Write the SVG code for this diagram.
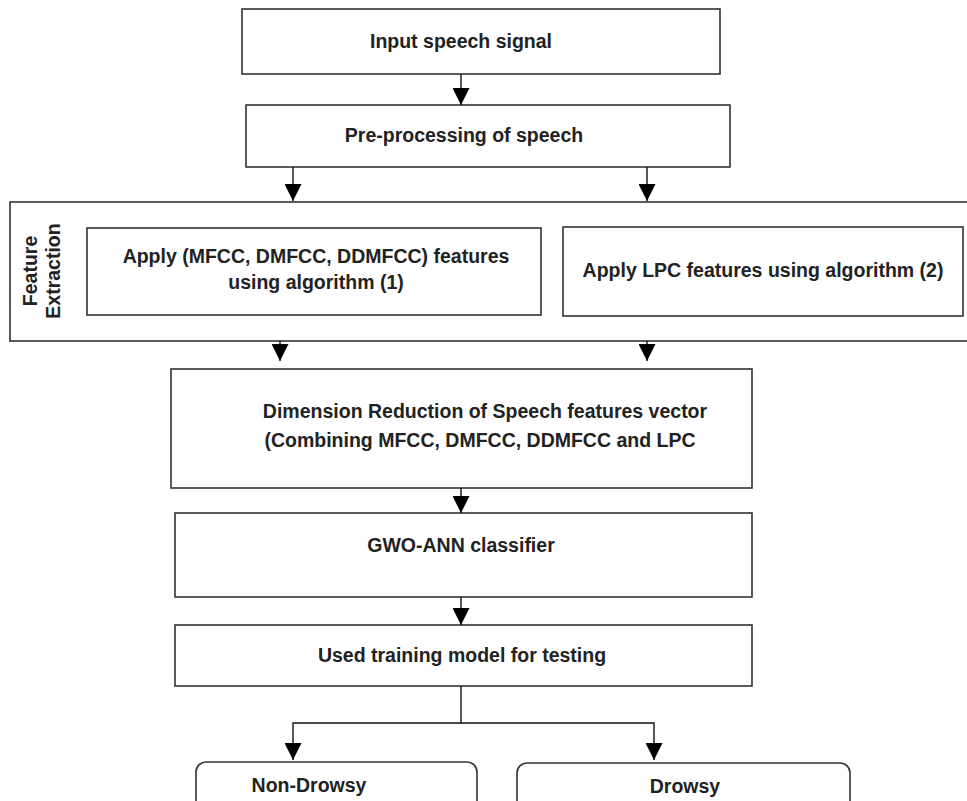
<svg xmlns="http://www.w3.org/2000/svg" width="967" height="801" viewBox="0 0 967 801">
<style>
.box{fill:#fff;stroke:#333;stroke-width:1.6}
.t{font-family:"Liberation Sans",Arial,sans-serif;font-weight:bold;font-size:19.5px;fill:#222;text-anchor:middle}
.c{stroke:#111;stroke-width:1.4;fill:none}
</style>
<defs>
<marker id="ah2" viewBox="0 0 10 10" refX="10" refY="5" markerWidth="17" markerHeight="17" markerUnits="userSpaceOnUse" orient="auto">
<path d="M0,0 L10,5 L0,10 Z" fill="#000"/>
</marker>
</defs>
<rect width="967" height="801" fill="#fff"/>
<g id="feature-extraction">
<rect class="box" x="10" y="202" width="962" height="139"/>
<text class="t" transform="translate(37,271) rotate(-90)">Feature</text>
<text class="t" transform="translate(60,271) rotate(-90)">Extraction</text>
</g>
<g id="input">
<rect class="box" x="242" y="9" width="478" height="65"/>
<text class="t" x="461" y="48">Input speech signal</text>
</g>
<g id="preprocessing">
<rect class="box" x="246" y="105" width="484" height="62"/>
<text class="t" x="464" y="142">Pre-processing of speech</text>
</g>
<g id="mfcc">
<rect class="box" x="87" y="228" width="454" height="87"/>
<text class="t" x="316" y="263">Apply (MFCC, DMFCC, DDMFCC) features</text>
<text class="t" x="316" y="289">using algorithm (1)</text>
</g>
<g id="lpc">
<rect class="box" x="563" y="227" width="400" height="89"/>
<text class="t" x="763" y="277">Apply LPC features using algorithm (2)</text>
</g>
<g id="dimension">
<rect class="box" x="171" y="369" width="581" height="119"/>
<text class="t" x="485" y="418">Dimension Reduction of Speech features vector</text>
<text class="t" x="480" y="447">(Combining MFCC, DMFCC, DDMFCC and LPC</text>
</g>
<g id="gwo">
<rect class="box" x="175" y="513" width="577" height="84"/>
<text class="t" x="461" y="552">GWO-ANN classifier</text>
</g>
<g id="used">
<rect class="box" x="175" y="625" width="577" height="61"/>
<text class="t" x="462" y="662">Used training model for testing</text>
</g>
<g id="nondrowsy">
<rect class="box" x="196" y="762" width="281" height="60" rx="10"/>
<text class="t" x="309" y="792">Non-Drowsy</text>
</g>
<g id="drowsy">
<rect class="box" x="517" y="763" width="333" height="60" rx="10"/>
<text class="t" x="685" y="793">Drowsy</text>
</g>
<g id="connectors">
<line class="c" x1="461" y1="74" x2="461" y2="105" marker-end="url(#ah2)"/>
<line class="c" x1="293" y1="167" x2="293" y2="201" marker-end="url(#ah2)"/>
<line class="c" x1="647" y1="167" x2="647" y2="201" marker-end="url(#ah2)"/>
<line class="c" x1="280" y1="341" x2="280" y2="361" marker-end="url(#ah2)"/>
<line class="c" x1="647" y1="341" x2="647" y2="361" marker-end="url(#ah2)"/>
<line class="c" x1="461" y1="488" x2="461" y2="513" marker-end="url(#ah2)"/>
<line class="c" x1="461" y1="597" x2="461" y2="625" marker-end="url(#ah2)"/>
<path class="c" d="M461,686 V723 H293 V760" marker-end="url(#ah2)"/>
<path class="c" d="M461,723 H654 V760" marker-end="url(#ah2)"/>
</g>
</svg>
